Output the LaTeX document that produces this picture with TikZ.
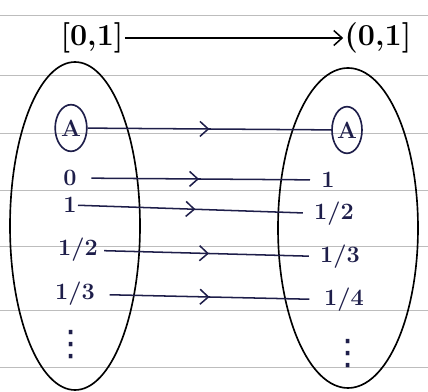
\documentclass[tikz,border=0pt]{standalone}
\usepackage{fontspec}
\usepackage{xcolor}
\usepackage{tikz}
\usetikzlibrary{arrows.meta,shapes.geometric,decorations.markings}
\newfontfamily\dotsfont{DejaVu Sans}
\definecolor{InkNavy}{HTML}{1E1E4A}
\definecolor{RuleGray}{HTML}{BDBDBD}

\begin{document}
\begin{tikzpicture}[
  x=0.3mm,y=-0.3mm,
  item/.style={text=InkNavy,inner sep=1pt,font=\fontsize{20}{22}\selectfont\bfseries},
  dotsitem/.style={text=InkNavy,inner sep=0pt,font=\fontsize{30}{32}\selectfont\dotsfont},
  setname/.style={inner sep=1pt,font=\fontsize{26}{28}\selectfont\bfseries},
  setbox/.style={ellipse,draw,line width=1.4pt,inner sep=0pt},
  ringed/.style={ellipse,draw=InkNavy,line width=1.4pt,inner sep=0pt,
    minimum width=9.5mm,minimum height=14mm},
  maparrow/.style={line width=1.3pt,draw=InkNavy,
    decoration={markings,mark=at position 0.5 with {\arrow{Straight Barb[length=2.5mm,width=4.5mm,line width=1.3pt]}}},
    postaction={decorate}},
  toparrow/.style={-{Straight Barb[length=2.5mm,width=4.5mm]},line width=1.3pt}
]
  \useasboundingbox (0,0) rectangle (428,392);

  % ruled paper
  \foreach \y in {15,75,133,190,246,310,367}
    \draw[RuleGray,line width=0.8pt] (0,\y) -- (428,\y);

  % the two sets
  \node[setname] (domain) at (92,38) {[0,1]};
  \node[setname] (codomain) at (378,38) {(0,1]};
  \draw[toparrow] (domain) -- (codomain);

  \node[setbox,minimum width=39mm,minimum height=98.4mm] (leftset) at (75,226) {};
  \node[setbox,minimum width=42mm,minimum height=96mm] (rightset) at (348,228) {};

  % left elements
  \node[item,ringed] (lA) at (71,128) {A};
  \node[item] (l0) at (70,178) {0};
  \node[item] (l1) at (70,205) {1};
  \node[item] (lhalf) at (78,250) {1/2};
  \node[item] (lthird) at (75,294) {1/3};
  \node[dotsitem] (ldots) at (71,345) {⋮};

  % right elements
  \node[item,ringed,minimum width=9mm] (rA) at (347,130) {A};
  \node[item] (r1) at (328,180) {1};
  \node[item] (rhalf) at (334,214) {1/2};
  \node[item] (rthird) at (340,257) {1/3};
  \node[item] (rfourth) at (344,300) {1/4};
  \node[dotsitem] (rdots) at (348,354) {⋮};

  \draw[maparrow] (lA) -- (rA);
  \draw[maparrow,shorten <=4mm,shorten >=3mm] (l0) -- (r1);
  \draw[maparrow,shorten >=3mm] (l1) -- (rhalf);
  \draw[maparrow,shorten <=1.5mm,shorten >=3mm] (lhalf) -- (rthird);
  \draw[maparrow,shorten <=4mm,shorten >=4mm] (lthird) -- (rfourth);
\end{tikzpicture}
\end{document}
